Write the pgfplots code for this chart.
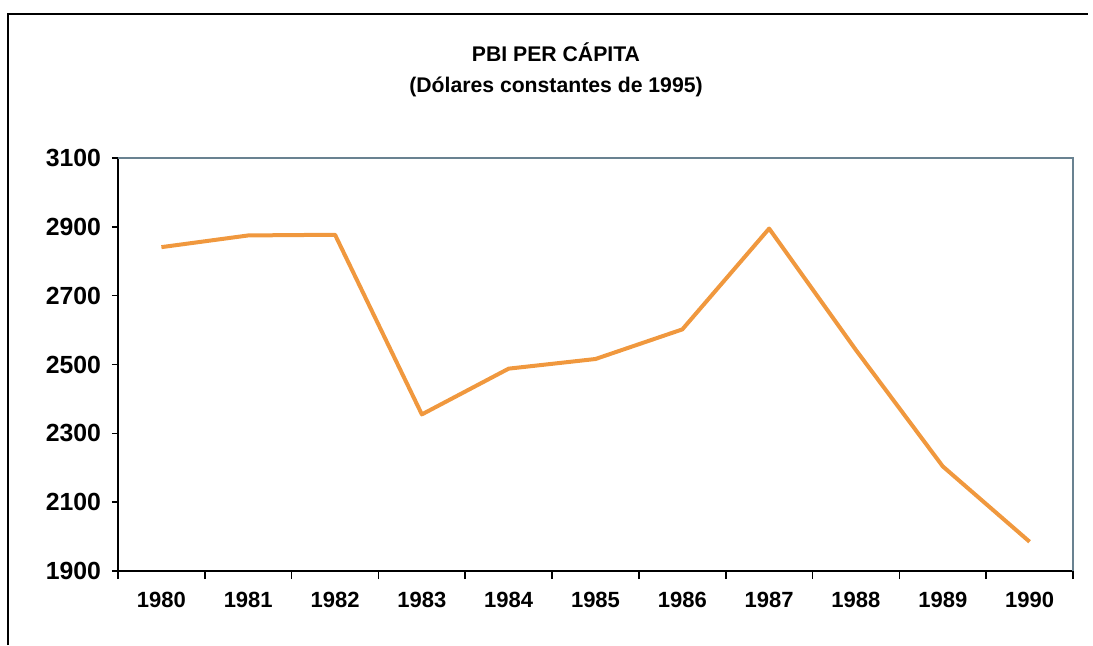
\documentclass[border=0pt]{standalone}
\usepackage{fontspec}
\setmainfont{Liberation Sans}
\usepackage{pgfplots}
\pgfplotsset{compat=1.18}
\definecolor{lineorange}{RGB}{240,152,62}
\definecolor{framegray}{RGB}{105,130,145}
\begin{document}
\begin{tikzpicture}
\path[use as bounding box] (0,0) rectangle (546.5pt,322.5pt);
\draw[black, line width=0.8pt] (4pt,0pt) -- (4pt,315.5pt) -- (544pt,315.5pt);
\node[font=\fontsize{10.6}{12}\selectfont\bfseries] at (278pt,296.5pt) {PBI PER CÁPITA};
\node[font=\fontsize{10.6}{12}\selectfont\bfseries] at (278pt,279pt) {(Dólares constantes de 1995)};
\begin{axis}[
  at={(59pt,37pt)}, anchor=south west,
  scale only axis, width=477.5pt, height=206.5pt,
  xmin=-0.5, xmax=10.5, ymin=1900, ymax=3100,
  axis x line*=bottom, axis y line*=left,
  axis line style={black, line width=0.9pt, -},
  xtick={0,...,10},
  xticklabels={1980,1981,1982,1983,1984,1985,1986,1987,1988,1989,1990},
  minor xtick={-0.5,0.5,...,10.5},
  major x tick style={draw=none},
  minor tick length=4pt,
  tick align=outside,
  ytick={1900,2100,...,3100},
  yticklabels={1900,2100,2300,2500,2700,2900,3100},
  major tick length=3pt,
  tick style={black, line width=0.8pt},
  xticklabel style={font=\fontsize{11}{12}\selectfont\bfseries, anchor=north, yshift=-4pt},
  yticklabel style={font=\fontsize{12.4}{14}\selectfont\bfseries, anchor=east, xshift=-2pt},
  clip=false,
]
\draw[framegray, line width=0.8pt] (rel axis cs:0,1) -- (rel axis cs:1,1) -- (rel axis cs:1,0);
\addplot[lineorange, line width=2pt, line join=round, mark=none] coordinates {
(0,2841) (1,2875) (2,2877) (3,2355) (4,2488) (5,2516) (6,2602) (7,2895) (8,2542) (9,2204) (10,1985)
};
\end{axis}
\end{tikzpicture}
\end{document}
